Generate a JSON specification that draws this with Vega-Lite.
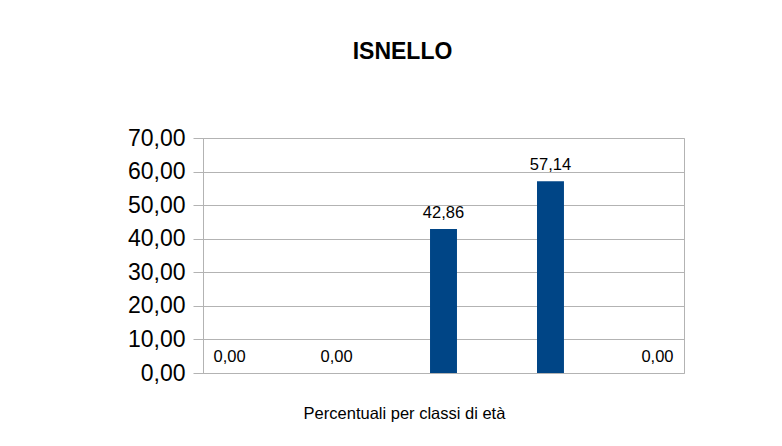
{
  "$schema": "https://vega.github.io/schema/vega-lite/v6.json",
  "autosize": {"type": "none"},
  "width": 481,
  "height": 235,
  "padding": {"left": 203, "top": 138, "right": 98, "bottom": 73},
  "background": "white",
  "config": {
    "locale": {"number": {"decimal": ",", "thousands": ".", "grouping": [3], "currency": ["€", ""]}},
    "font": "Liberation Sans",
    "view": {"stroke": "#b3b3b3", "strokeWidth": 1}
  },
  "title": {
    "text": "ISNELLO",
    "font": "Liberation Sans",
    "fontSize": 23,
    "fontWeight": "bold",
    "color": "black",
    "anchor": "middle",
    "frame": "group",
    "baseline": "alphabetic",
    "dx": -41,
    "offset": 45
  },
  "data": {
    "values": [
      {"classe": "1", "valore": 0},
      {"classe": "2", "valore": 0},
      {"classe": "3", "valore": 42.86},
      {"classe": "4", "valore": 57.14},
      {"classe": "5", "valore": 0}
    ]
  },
  "encoding": {
    "x": {
      "field": "classe",
      "type": "nominal",
      "sort": null,
      "scale": {"paddingInner": 0.748, "paddingOuter": 0.122},
      "axis": {
        "title": "Percentuali per classi di età",
        "titleFont": "Liberation Sans",
        "titleFontSize": 16.5,
        "titleFontWeight": "normal",
        "titleColor": "black",
        "titleX": 201,
        "titleY": 45,
        "titleAlign": "center",
        "titleBaseline": "alphabetic",
        "labels": false,
        "ticks": false,
        "domain": false,
        "grid": false
      }
    },
    "y": {
      "field": "valore",
      "type": "quantitative",
      "scale": {"domain": [0, 70], "nice": false},
      "axis": {
        "title": null,
        "values": [0, 10, 20, 30, 40, 50, 60, 70],
        "format": ".2f",
        "labelFont": "Liberation Sans",
        "labelFontSize": 23,
        "labelColor": "black",
        "labelPadding": 8,
        "tickSize": 10,
        "tickColor": "#b3b3b3",
        "domainColor": "#b3b3b3",
        "gridColor": "#b3b3b3",
        "grid": true
      }
    }
  },
  "layer": [
    {
      "mark": {"type": "bar", "color": "#004586"}
    },
    {
      "mark": {
        "type": "text",
        "baseline": "alphabetic",
        "dy": -11.5,
        "font": "Liberation Sans",
        "fontSize": 16.5,
        "color": "black"
      },
      "encoding": {
        "text": {"field": "valore", "type": "quantitative", "format": ".2f"}
      }
    }
  ]
}
